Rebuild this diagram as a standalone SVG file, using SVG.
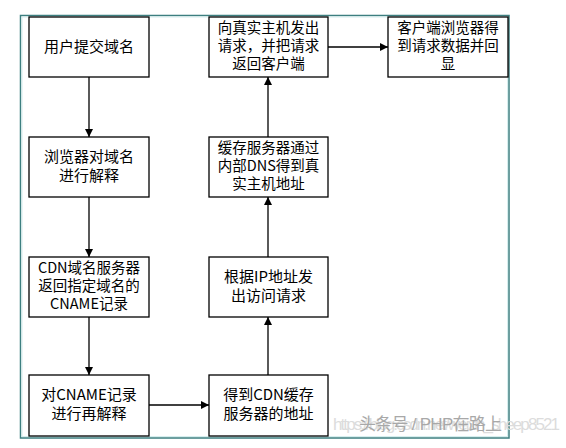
<svg xmlns="http://www.w3.org/2000/svg" width="566" height="448" viewBox="0 0 566 448">
<defs>
<marker id="ah" viewBox="0 0 10 10" refX="10" refY="5" markerWidth="8" markerHeight="8" markerUnits="userSpaceOnUse" orient="auto">
<path d="M0,0 L10,5 L0,10 z" fill="#000"/>
</marker>
<style>
.box{fill:#fff;stroke:#000;stroke-width:1.3}
.t{font-family:"Noto Sans CJK SC","Liberation Sans",sans-serif;font-size:15px;fill:#000;text-anchor:middle}
.t3{font-size:14.5px}
.c{stroke:#000;stroke-width:1.3;fill:none;marker-end:url(#ah)}
.wm{font-family:"Liberation Sans","Noto Sans CJK SC",sans-serif;font-size:17px}
</style>
</defs>
<rect width="566" height="448" fill="#fff"/>
<rect x="20.5" y="15.5" width="488.5" height="422.5" fill="#fff" stroke="#3d7f80" stroke-width="1.5"/>
<rect x="22" y="17" width="485.5" height="419.5" fill="none" stroke="#d6eeee" stroke-width="1"/>
<g id="connectors">
<line class="c" x1="89" y1="77" x2="89" y2="137"/>
<line class="c" x1="89" y1="197" x2="89" y2="257"/>
<line class="c" x1="89" y1="317" x2="89" y2="375"/>
<line class="c" x1="149" y1="405" x2="209" y2="405"/>
<line class="c" x1="268" y1="375" x2="268" y2="317"/>
<line class="c" x1="268" y1="257" x2="268" y2="197"/>
<line class="c" x1="268" y1="137" x2="268" y2="77"/>
<line class="c" x1="328" y1="47" x2="388" y2="47"/>
</g>
<g id="n1"><rect class="box" x="29" y="17" width="120" height="60"/><text class="t" x="89" y="52">用户提交域名</text></g>
<g id="n2"><rect class="box" x="29" y="137" width="120" height="60"/><text class="t" x="89" y="162">浏览器对域名</text><text class="t" x="89" y="181">进行解释</text></g>
<g id="n3"><rect class="box" x="29" y="257" width="120" height="60"/><text class="t t3" x="89" y="273">CDN域名服务器</text><text class="t t3" x="89" y="291">返回指定域名的</text><text class="t t3" x="89" y="309">CNAME记录</text></g>
<g id="n4"><rect class="box" x="29" y="375" width="120" height="61"/><text class="t" x="89" y="400">对CNAME记录</text><text class="t" x="89" y="419">进行再解释</text></g>
<g id="n5"><rect class="box" x="209" y="375" width="119" height="61"/><text class="t" x="268.5" y="400">得到CDN缓存</text><text class="t" x="268.5" y="419">服务器的地址</text></g>
<g id="n6"><rect class="box" x="209" y="257" width="119" height="60"/><text class="t" x="268.5" y="282">根据IP地址发</text><text class="t" x="268.5" y="301">出访问请求</text></g>
<g id="n7"><rect class="box" x="209" y="137" width="119" height="60"/><text class="t t3" x="268.5" y="153">缓存服务器通过</text><text class="t t3" x="268.5" y="171">内部DNS得到真</text><text class="t t3" x="268.5" y="189">实主机地址</text></g>
<g id="n8"><rect class="box" x="209" y="17" width="119" height="60"/><text class="t t3" x="268.5" y="33">向真实主机发出</text><text class="t t3" x="268.5" y="51">请求，并把请求</text><text class="t t3" x="268.5" y="69">返回客户端</text></g>
<g id="n9"><rect class="box" x="388" y="17" width="120" height="60"/><text class="t t3" x="448" y="33">客户端浏览器得</text><text class="t t3" x="448" y="51">到请求数据并回</text><text class="t t3" x="448" y="69">显</text></g>
<text class="wm" x="333" y="430" fill="#dcdcdc" textLength="227">https://blog.csdn.net/weixin_sheep8521</text>
<text class="wm" x="359" y="430" fill="#a8a8a8" font-family="Noto Sans CJK SC,sans-serif" font-size="16" textLength="143">头条号 / PHP在路上</text>
</svg>
